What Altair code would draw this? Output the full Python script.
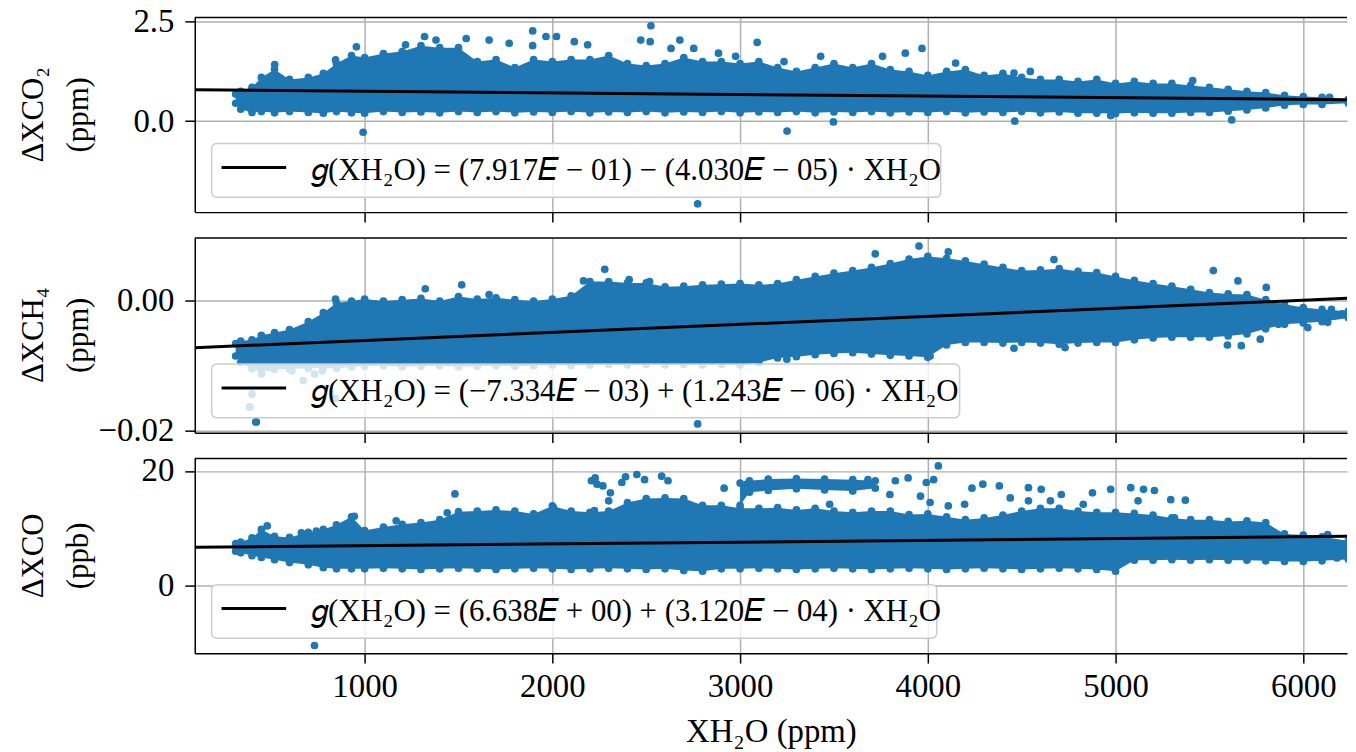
import altair as alt
import pandas as pd

FONT = "Liberation Serif"
BLUE = "#1f77b4"
W = 1160
H = 196
X_DOMAIN = [95, 6233]
X_TICKS = [1000, 2000, 3000, 4000, 5000, 6000]

# shared x grid of the envelope readings of the dense point clouds
XG = [313, 340, 400, 450, 520, 600, 700, 780, 850, 930,
      1000, 1100, 1200, 1300, 1400, 1500, 1600, 1700, 1800, 1900,
      2000, 2100, 2200, 2300, 2400, 2500, 2600, 2700, 2800, 2900,
      3000, 3100, 3200, 3300, 3400, 3500, 3600, 3700, 3800, 3900,
      4000, 4100, 4200, 4300, 4400, 4500, 4600, 4700, 4800, 4900,
      5000, 5100, 5200, 5300, 5400, 5500, 5600, 5700, 5800, 5900,
      6000, 6100, 6240]

CO2_HI = [0.68, 0.75, 0.85, 1.10, 1.30, 1.05, 1.10, 1.20, 1.45, 1.65,
          1.60, 1.70, 1.75, 1.90, 1.85, 1.85, 1.50, 1.55, 1.35, 1.55,
          1.50, 1.55, 1.55, 1.65, 1.45, 1.40, 1.45, 1.60, 1.50, 1.50,
          1.45, 1.50, 1.35, 1.25, 1.35, 1.45, 1.35, 1.45, 1.30, 1.25,
          1.15, 1.25, 1.30, 1.15, 1.20, 1.10, 1.05, 1.05, 1.00, 1.05,
          0.95, 1.00, 0.95, 0.95, 0.90, 0.85, 0.80, 0.75, 0.72, 0.65,
          0.62, 0.60, 0.55]
CO2_LO = [0.45, 0.30, 0.22, 0.24, 0.21, 0.24, 0.22, 0.20, 0.24, 0.21,
          0.20, 0.24, 0.22, 0.23, 0.21, 0.24, 0.22, 0.24, 0.21, 0.23,
          0.22, 0.24, 0.21, 0.23, 0.22, 0.24, 0.21, 0.23, 0.22, 0.24,
          0.21, 0.23, 0.22, 0.24, 0.21, 0.23, 0.22, 0.24, 0.21, 0.23,
          0.22, 0.24, 0.21, 0.23, 0.22, 0.24, 0.21, 0.23, 0.20, 0.20,
          0.19, 0.21, 0.20, 0.20, 0.22, 0.22, 0.25, 0.28, 0.33, 0.40,
          0.42, 0.42, 0.45]

CH4_HI = [-0.0066, -0.0062, -0.0060, -0.0053, -0.0049, -0.0044, -0.0032, -0.0018, -0.0003, 0.0000,
          0.0003, 0.0000, 0.0002, 0.0004, 0.0000, 0.0007, 0.0003, 0.0005, 0.0002, 0.0000,
          0.0003, 0.0008, 0.0030, 0.0030, 0.0028, 0.0028, 0.0022, 0.0023, 0.0025, 0.0026,
          0.0027, 0.0025, 0.0027, 0.0033, 0.0038, 0.0043, 0.0047, 0.0052, 0.0058, 0.0065,
          0.0069, 0.0066, 0.0062, 0.0057, 0.0052, 0.0047, 0.0048, 0.0050, 0.0046, 0.0044,
          0.0038, 0.0032, 0.0027, 0.0023, 0.0018, 0.0013, 0.0011, 0.0010, 0.0002, -0.0005,
          -0.0010, -0.0013, -0.0016]
CH4_LO = [-0.0085, -0.0095, -0.0105, -0.0108, -0.0106, -0.0105, -0.0104, -0.0103, -0.0104, -0.0102,
          -0.0101, -0.0100, -0.0102, -0.0101, -0.0100, -0.0102, -0.0101, -0.0100, -0.0101, -0.0100,
          -0.0099, -0.0100, -0.0099, -0.0098, -0.0099, -0.0098, -0.0099, -0.0098, -0.0099, -0.0098,
          -0.0099, -0.0095, -0.0088, -0.0086, -0.0083, -0.0081, -0.0080, -0.0082, -0.0084, -0.0085,
          -0.0087, -0.0068, -0.0064, -0.0064, -0.0065, -0.0064, -0.0065, -0.0067, -0.0065, -0.0064,
          -0.0064, -0.0060, -0.0057, -0.0056, -0.0056, -0.0056, -0.0054, -0.0051, -0.0043, -0.0036,
          -0.0034, -0.0032, -0.0026]

CO_HI = [7.3, 7.6, 8.3, 9.8, 8.6, 8.4, 9.3, 9.8, 10.6, 12.0,
         9.6, 10.2, 10.7, 11.0, 11.5, 12.9, 13.0, 13.2, 13.0, 12.5,
         13.9, 13.0, 12.8, 13.0, 14.5, 15.2, 15.3, 15.2, 14.0, 14.0,
         13.5, 13.5, 13.6, 13.2, 13.5, 13.0, 12.8, 13.0, 13.0, 12.4,
         12.5, 12.0, 11.5, 11.8, 12.3, 13.0, 13.5, 13.5, 13.0, 12.8,
         12.8, 12.6, 12.3, 11.8, 11.5, 11.5, 11.2, 11.3, 11.0, 9.0,
         8.8, 8.5, 7.8]
CO_LO = [6.0, 5.7, 5.2, 4.9, 4.5, 4.0, 3.6, 3.1, 2.9, 2.9,
         2.9, 3.0, 2.9, 2.8, 2.9, 3.0, 2.9, 2.8, 2.9, 3.0,
         2.9, 2.8, 2.9, 3.0, 2.9, 2.8, 2.9, 2.6, 2.5, 2.9,
         2.9, 3.0, 2.9, 2.8, 2.9, 3.0, 2.9, 2.8, 2.9, 3.0,
         2.9, 2.8, 2.9, 3.0, 2.9, 2.8, 2.9, 3.0, 2.9, 2.8,
         2.5, 4.4, 4.4, 4.5, 4.4, 4.5, 4.4, 4.4, 4.3, 4.2,
         4.2, 4.3, 4.6]

# secondary dense band of the CO panel
CO_BAND_X = [3000, 3050, 3150, 3300, 3450, 3600, 3720]
CO_BAND_LO = [14.0, 16.3, 16.6, 16.9, 16.7, 16.5, 17.0]
CO_BAND_HI = [17.9, 18.3, 18.6, 18.7, 18.6, 18.5, 18.3]

# individual points outside the dense clouds
CO2_PX = [521, 845, 956, 992, 1218, 1319, 1380, 1541, 1663, 1770,
          1895, 1895, 1966, 2022, 2117, 2188, 2471, 2521, 2525, 2632,
          2679, 2753, 2774, 2885, 2976, 3091, 3234, 3250, 3429, 3497,
          3759, 3880, 3969, 4148, 4459, 4463, 4546, 4974, 5411, 5619, 6140]
CO2_PY = [1.42, 1.54, 1.87, -0.28, 1.92, 2.13, 2.04, 2.08, 2.04, 1.96,
          2.27, 1.90, 2.13, 2.13, 2.00, 1.92, 2.04, 2.00, 2.40, 1.83,
          2.04, 1.83, -2.08, 1.71, 1.63, 1.98, 1.50, -0.25, 1.63, -0.02,
          1.63, 1.71, 1.83, 1.46, 1.21, 0.00, 1.25, 0.14, 1.02, 0.03, 0.60]

CH4_PX = [386, 390, 400, 420, 423, 451, 491, 612, 673, 733,
          774, 844, 845, 1323, 1517, 1663, 2166, 2279, 2409, 2518,
          2774, 3249, 3720, 3953, 4012, 4109, 4459, 4672, 4731, 5521,
          5596, 5652, 5670, 5771, 5803, 5868, 6024, 6130, 6150, 6208]
CH4_PY = [-0.0164, -0.0164, -0.0144, -0.0187, -0.0187, -0.0113, -0.0103, -0.0108, -0.0123, -0.0113,
          -0.0108, -0.0151, 0.0003, 0.0019, 0.0025, 0.0010, 0.0031, 0.0049, 0.0033, 0.0030,
          -0.0190, -0.0090, 0.0073, 0.0085, -0.0085, 0.0076, -0.0073, 0.0064, -0.0072, 0.0047,
          -0.0068, 0.0031, -0.0069, -0.0059, 0.0021, -0.0036, -0.0041, -0.0033, -0.0013, -0.0020]

CO_PX = [481, 663, 733, 743, 945, 1168, 1440, 1481, 2006, 2208,
         2224, 2228, 2238, 2269, 2300, 2309, 2370, 2390, 2450, 2491,
         2582, 2616, 2915, 3036, 3477, 3681, 3798, 3827, 3895, 3961,
         3992, 4012, 4031, 4056, 4109, 4196, 4235, 4293, 4381, 4439,
         4536, 4536, 4604, 4653, 4711, 4828, 4877, 4974, 5081, 5120,
         5149, 5207, 5294, 5314, 5372, 6111, 6127, 6130, 6179, 6206]
CO_PY = [10.4, 9.2, -10.5, 9.5, 12.1, 11.3, 12.7, 16.0, 13.6, 18.3,
         13.1, 18.8, 17.7, 17.4, 14.8, 16.2, 18.0, 19.0, 19.4, 18.5,
         19.1, 18.3, 17.0, 17.7, 14.2, 18.5, 15.9, 18.3, 18.8, 15.6,
         18.0, 14.5, 18.5, 20.9, 13.9, 14.2, 17.0, 17.7, 17.4, 15.3,
         17.1, 14.8, 16.8, 14.8, 15.9, 14.2, 16.2, 16.8, 17.1, 14.8,
         16.8, 16.6, 15.0, 11.8, 14.9, 7.8, 5.2, 8.9, 4.8, 5.2]

# linear fit coefficients g(XH2O) = a + b * XH2O
FIT_A = [0.7917, -7.334e-03, 6.638]
FIT_B = [-4.030e-05, 1.243e-06, 3.120e-04]

Y_DOMAINS = [[-2.29, 2.61], [-0.02035, 0.00975], [-11.84, 22.2]]
Y_TICKS = [[0.0, 2.5], [-0.02, 0.0], [0, 20]]
Y_FORMATS = [".1f", ".2f", "d"]
Y_TITLE_1 = ["ΔXCO₂", "ΔXCH₄", "ΔXCO"]
Y_TITLE_2 = ["(ppm)", "(ppm)", "(ppb)"]
EQUATIONS = [
    "𝑔(XH₂O) = (7.917𝐸 − 01) − (4.030𝐸 − 05) · XH₂O",
    "𝑔(XH₂O) = (−7.334𝐸 − 03) + (1.243𝐸 − 06) · XH₂O",
    "𝑔(XH₂O) = (6.638𝐸 + 00) + (3.120𝐸 − 04) · XH₂O",
]
BOX_RIGHT = [751, 770, 747]


def panel(i, lo, hi, px, py, bottom, band=None):
    xs = alt.Scale(domain=X_DOMAIN, nice=False, zero=False)
    ys = alt.Scale(domain=Y_DOMAINS[i], nice=False, zero=False)
    if bottom:
        xaxis = alt.Axis(values=X_TICKS, format="d", title="XH₂O (ppm)", labels=True)
    else:
        xaxis = alt.Axis(values=X_TICKS, format="d", title=None, labels=False)
    yaxis = alt.Axis(values=Y_TICKS[i], format=Y_FORMATS[i], title=None)
    xenc = alt.X("x:Q", scale=xs, axis=xaxis)

    env = pd.DataFrame({"x": XG, "lo": lo, "hi": hi})
    layers = [
        alt.Chart(env).mark_area(color=BLUE, opacity=1, clip=True).encode(
            x=xenc, y=alt.Y("lo:Q", scale=ys, axis=yaxis), y2="hi:Q"),
        alt.Chart(env).mark_circle(color=BLUE, opacity=1, size=60, clip=True).encode(
            x=xenc, y=alt.Y("hi:Q", scale=ys, axis=yaxis)),
        alt.Chart(env).mark_circle(color=BLUE, opacity=1, size=60, clip=True).encode(
            x=xenc, y=alt.Y("lo:Q", scale=ys, axis=yaxis)),
    ]
    if band is not None:
        bdf = pd.DataFrame({"x": band[0], "lo": band[1], "hi": band[2]})
        layers.append(alt.Chart(bdf).mark_area(color=BLUE, opacity=1, clip=True).encode(
            x=xenc, y=alt.Y("lo:Q", scale=ys, axis=yaxis), y2="hi:Q"))
        layers.append(alt.Chart(bdf).mark_circle(color=BLUE, opacity=1, size=60, clip=True).encode(
            x=xenc, y=alt.Y("hi:Q", scale=ys, axis=yaxis)))
        layers.append(alt.Chart(bdf).mark_circle(color=BLUE, opacity=1, size=60, clip=True).encode(
            x=xenc, y=alt.Y("lo:Q", scale=ys, axis=yaxis)))
    pts = pd.DataFrame({"x": px, "y": py})
    layers.append(alt.Chart(pts).mark_circle(color=BLUE, opacity=1, size=60, clip=True).encode(
        x=xenc, y=alt.Y("y:Q", scale=ys, axis=yaxis)))
    fit = pd.DataFrame({"x": X_DOMAIN})
    layers.append(alt.Chart(fit).transform_calculate(
        y=f"{FIT_A[i]} + ({FIT_B[i]}) * datum.x").mark_line(
        color="black", strokeWidth=3, clip=True).encode(
        x=xenc, y=alt.Y("y:Q", scale=ys, axis=yaxis)))
    one = pd.DataFrame({"k": [0]})
    layers.append(alt.Chart(one).mark_rule(color="black", strokeWidth=1.5).encode(
        x=alt.value(0), x2=alt.value(W), y=alt.value(0)))
    layers.append(alt.Chart(one).mark_rect(
        fill="white", fillOpacity=0.8, stroke="#cccccc", strokeWidth=1.5, cornerRadius=5).encode(
        x=alt.value(17), x2=alt.value(BOX_RIGHT[i]), y=alt.value(127), y2=alt.value(181)))
    layers.append(alt.Chart(one).mark_rule(color="black", strokeWidth=3).encode(
        x=alt.value(27), x2=alt.value(92), y=alt.value(151)))
    layers.append(alt.Chart(one).mark_text(
        align="left", baseline="alphabetic", font=FONT, fontSize=31, color="black").encode(
        x=alt.value(117), y=alt.value(164), text=alt.value(EQUATIONS[i])))
    # two-line y-axis title
    layers.append(alt.Chart(one).mark_text(
        align="center", baseline="middle", angle=270, font=FONT, fontSize=31, color="black").encode(
        x=alt.value(-162), y=alt.value(H / 2), text=alt.value(Y_TITLE_1[i])))
    layers.append(alt.Chart(one).mark_text(
        align="center", baseline="middle", angle=270, font=FONT, fontSize=31, color="black").encode(
        x=alt.value(-116), y=alt.value(H / 2), text=alt.value(Y_TITLE_2[i])))
    return alt.layer(*layers).properties(width=W, height=H)


p1 = panel(0, CO2_LO, CO2_HI, CO2_PX, CO2_PY, False)
p2 = panel(1, CH4_LO, CH4_HI, CH4_PX, CH4_PY, False)
p3 = panel(2, CO_LO, CO_HI, CO_PX, CO_PY, True, band=(CO_BAND_X, CO_BAND_LO, CO_BAND_HI))

chart = alt.vconcat(p1, p2, p3, spacing=26, bounds="flush").properties(
    padding={"left": 10, "top": -5, "right": 0, "bottom": 0}
).configure_view(stroke=None).configure_axis(
    labelFont=FONT, labelFontSize=33, labelColor="black",
    titleFont=FONT, titleFontSize=33, titleColor="black", titleFontWeight="normal",
    tickColor="black", tickSize=10, tickWidth=1.5,
    domainColor="black", domainWidth=1.5,
    gridColor="#b0b0b0", gridWidth=1.5, grid=True,
    labelPadding=11, zindex=1,
).configure_axisX(titlePadding=12, labelPadding=8)

chart.save("out.html", embed_options={"renderer": "svg", "actions": False})
